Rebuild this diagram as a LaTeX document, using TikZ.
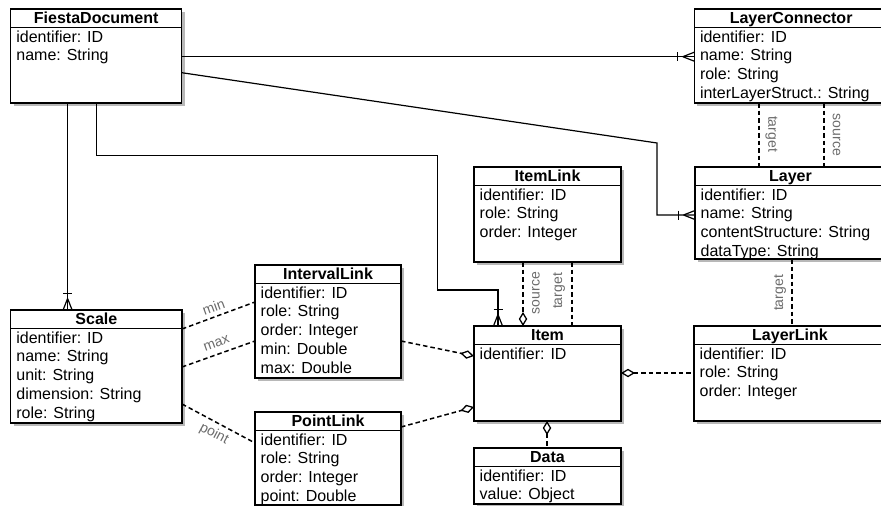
\documentclass[tikz,border=0pt]{standalone}
\usepackage{fontspec}
\setmainfont{Liberation Sans}
\usetikzlibrary{arrows.meta,calc}
\definecolor{shadowgray}{gray}{0.72}
\definecolor{labgray}{gray}{0.42}
\tikzset{
  clsbox/.style={draw, fill=white, line width=1.4pt, inner sep=0pt, outer sep=0pt, anchor=north west},
  conn/.style={line width=1.2pt},
  dconn/.style={line width=1.5pt, dash pattern=on 4.5pt off 3pt},
  attr/.style={anchor=base west, inner sep=0pt, font=\fontsize{16}{18}\selectfont},
  ttl/.style={anchor=base, inner sep=0pt, font=\fontsize{16}{18}\selectfont\bfseries},
  rlabel/.style={text=labgray, inner sep=0pt, font=\fontsize{14}{15}\selectfont},
  agg/.tip={Diamond[fill=white, length=14pt, width=8.5pt, line width=1.3pt]}
}
\newcommand\umlcls[7]{%
  \fill[shadowgray] ({#2+3},{#3+3}) rectangle ({#4+3},{#5+3});
  \node[clsbox, minimum width={(#4)-(#2)}, minimum height={(#5)-(#3)}] (#1) at (#2,#3) {};
  \draw[line width=1.4pt] (#2,#3+18.5) -- (#4,#3+18.5);
  \node[ttl] (#1-title) at ({(#2+#4)/2},#3+14.2) {#6};
  \foreach \atxt [count=\ai from 0] in {#7} {\node[attr] (#1-a\ai) at (#2+5.5,#3+33+\ai*18.9) {\atxt};}
}
% crow's foot, line arriving from the left at box edge x=#1, y=#2
\newcommand\crowL[2]{%
  \draw[conn] (#1-16.5,#2-4.5) -- (#1-16.5,#2+4.5);
  \draw[conn] (#1-11.5,#2) -- (#1,#2-4.5) (#1-11.5,#2) -- (#1,#2+4.5);
}
% crow's foot, line arriving from above at box edge y=#2, x=#1
\newcommand\crowT[2]{%
  \draw[conn] (#1-4.5,#2-16.5) -- (#1+4.5,#2-16.5);
  \draw[conn] (#1,#2-11.5) -- (#1-4.5,#2) (#1,#2-11.5) -- (#1+4.5,#2);
}
\begin{document}
\begin{tikzpicture}[x=1pt, y=-1pt]
\useasboundingbox (0,0) rectangle (881,506);
\clip (0,0) rectangle (881,506);

\coordinate (fl1) at (437.7,155.7);
\coordinate (fl2) at (437.7,290);
\coordinate (fb1) at (657,143);

\umlcls{fiesta}{10.7}{9}{181.7}{103}{FiestaDocument}{identifier: ID,name: String}
\umlcls{lconn}{694.3}{9}{888}{103}{LayerConnector}{identifier: ID,name: String,role: String,interLayerStruct.: String}
\umlcls{layer}{695}{167}{886}{259}{Layer}{identifier: ID,name: String,contentStructure: String,dataType: String}
\umlcls{itemlink}{474}{167}{621}{262}{ItemLink}{identifier: ID,role: String,order: Integer}
\umlcls{item}{474}{326}{621}{421}{Item}{identifier: ID}
\umlcls{data}{474}{448}{621}{504}{Data}{identifier: ID,value: Object}
\umlcls{llink}{694}{326}{886}{421}{LayerLink}{identifier: ID,role: String,order: Integer}
\umlcls{scale}{10.7}{310}{182}{423}{Scale}{identifier: ID,name: String,unit: String,dimension: String,role: String}
\umlcls{ilink}{255}{265}{401}{378}{IntervalLink}{identifier: ID,role: String,order: Integer,min: Double,max: Double}
\umlcls{plink}{255}{412}{401}{505}{PointLink}{identifier: ID,role: String,order: Integer,point: Double}

% FiestaDocument -> LayerConnector
\draw[conn] (fiesta.east |- 0,56.7) -- (lconn.west |- 0,56.7);
\crowL{694.3}{56.7}
% FiestaDocument -> Layer
\draw[conn] (fiesta.east |- 0,72.7) -- (fb1) -- (fb1 |- 0,215) -- (layer.west |- 0,215);
\crowL{695}{215}
% FiestaDocument -> Item
\draw[conn] (fiesta.south -| 96.7,0) -- (fl1 -| 96.7,0) -- (fl1) -- (fl2) -- (fl2 -| 498,0) -- (item.north -| 498,0);
\crowT{498}{326}
% FiestaDocument -> Scale
\draw[conn] (fiesta.south -| 67.6,0) -- (scale.north -| 67.6,0);
\crowT{67.6}{310}

% LayerConnector -> Layer
\draw[dconn] (lconn.south -| 759,0) -- (layer.north -| 759,0);
\draw[dconn] (lconn.south -| 824,0) -- (layer.north -| 824,0);
\node[rlabel, rotate=-90] (lc-target) at (771.5,134) {target};
\node[rlabel, rotate=-90] (lc-source) at (836.5,135) {source};

% ItemLink -> Item
\draw[dconn, -agg] (itemlink.south -| 523,0) -- (item.north -| 523,0);
\draw[dconn] (itemlink.south -| 572,0) -- (item.north -| 572,0);
\node[rlabel, rotate=90] (il-source) at (536,293) {source};
\node[rlabel, rotate=90] (il-target) at (559,291) {target};

% Layer -> LayerLink
\draw[dconn] (layer.south -| 792,0) -- (llink.north -| 792,0);
\node[rlabel, rotate=90] (ly-target) at (780,293) {target};

% Item <- LayerLink
\draw[dconn, agg-] (item.east |- 0,373) -- (llink.west |- 0,373);
% Item <- Data
\draw[dconn, agg-] (item.south -| 547,0) -- (data.north -| 547,0);

% Scale -> IntervalLink / PointLink
\draw[dconn] (scale.east |- 0,329) -- (ilink.west |- 0,302);
\draw[dconn] (scale.east |- 0,367) -- (ilink.west |- 0,341);
\draw[dconn] (scale.east |- 0,404) -- (plink.west |- 0,443);
\node[rlabel, rotate=20] (lb-min) at (213.5,307) {min};
\node[rlabel, rotate=20] (lb-max) at (216.5,343.5) {max};
\node[rlabel, rotate=-28] (lb-point) at (214,434) {point};

% IntervalLink / PointLink -> Item
\draw[dconn, -agg] (ilink.east |- 0,341) -- (item.west |- 0,356);
\draw[dconn, -agg] (plink.east |- 0,427) -- (item.west |- 0,407);
\end{tikzpicture}
\end{document}
